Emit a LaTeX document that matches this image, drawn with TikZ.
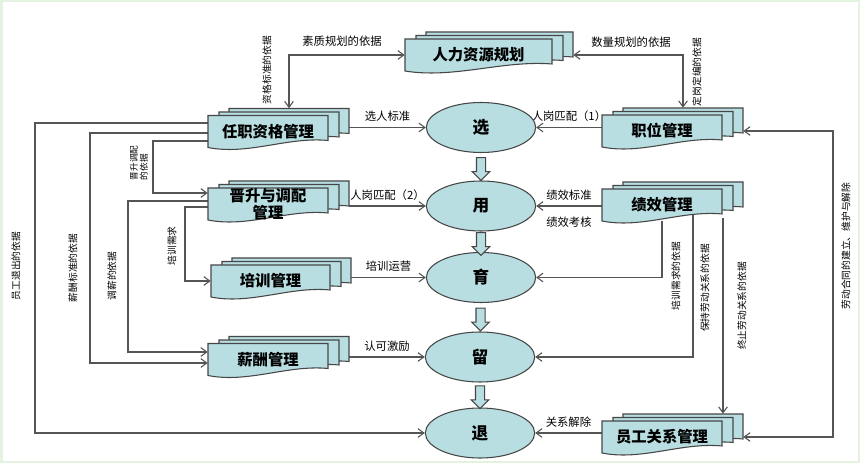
\documentclass[tikz,border=0pt]{standalone}
\usepackage{fontspec}
\setmainfont{Noto Sans CJK SC}
\usepackage{xcolor}
\definecolor{docfill}{RGB}{184, 222, 226}
\definecolor{docline}{RGB}{70, 70, 70}
\definecolor{wire}{RGB}{85, 85, 85}
\definecolor{frame}{RGB}{228, 243, 224}
\usepackage{tikz}
\usetikzlibrary{calc, positioning, shapes.geometric, shapes.arrows, arrows.meta, backgrounds}

% stacked document: name, front centre, width (px), text
\newcommand{\docstack}[4]{%
  \foreach \dx/\dy in {21/-7, 11/-3.5, 0/0}
    \path[docshape, shift={($#2+(\dx,\dy)$)}] ({-#3/2},-16) -- ({#3/2},-16) -- ({#3/2},9)
      .. controls ({#3/6},5) and ({-#3/6},24) .. ({-#3/2},16) -- cycle;
  \node[docback, minimum width=#3*0.75pt] (#1b) at ($#2+(21,-7)$) {};
  \node[docback, minimum width=#3*0.75pt] (#1m) at ($#2+(11,-3.5)$) {};
  \node[doc, minimum width=#3*0.75pt] (#1) at #2 {#4};
}

\begin{document}
\begin{tikzpicture}[
  x=0.75pt, y=-0.75pt,
  >={Straight Barb[length=4.5pt,width=6.5pt]},
  docshape/.style={draw=docline, fill=docfill, line width=0.8pt},
  doc/.style={rectangle, minimum height=24pt, inner sep=1pt, align=center, font=\fontsize{11.5}{12.5}\selectfont\bfseries},
  docback/.style={rectangle, minimum height=24pt, inner sep=0pt},
  stage/.style={ellipse, draw=docline, fill=docfill, line width=0.8pt, minimum width=82pt, minimum height=37.5pt, font=\fontsize{12.5}{13}\selectfont\bfseries},
  down/.style={single arrow, draw=docline, fill=docfill, line width=0.8pt, rotate=-90, inner sep=3pt, single arrow head extend=3.2pt, minimum height=17pt},
  flow/.style={draw=wire, line width=0.8pt, ->},
  lbl/.style={font=\fontsize{8.5}{9}\selectfont, inner sep=2pt},
  vlbl/.style={font=\fontsize{7.3}{8}\selectfont, rotate=90, inner sep=1pt, align=left}
]
  \useasboundingbox (0,0) rectangle (860,463);

  % document boxes
  \docstack{plan}{(478.5,55)}{147}{人力资源规划}
  \docstack{quali}{(268,131.5)}{120}{任职资格管理}
  \docstack{post}{(662,131)}{120}{职位管理}
  \docstack{promo}{(268,204)}{120}{晋升与调配\\管理}
  \docstack{train}{(270.5,281)}{119}{培训管理}
  \docstack{pay}{(268,359.5)}{120}{薪酬管理}
  \docstack{perf}{(662,205)}{120}{绩效管理}
  \docstack{rel}{(662,437)}{120}{员工关系管理}

  % stages
  \node[stage] (sel) at (481,127.5) {选};
  \node[stage] (use) at (481,206) {用};
  \node[stage] (dev) at (481,277.5) {育};
  \node[stage] (keep) at (480,357) {留};
  \node[stage] (exit) at (480,433) {退};

  \node[down] (a1) at ($(sel.south)!0.5!(use.north)$) {};
  \node[down] (a2) at ($(use.south)!0.5!(dev.north)$) {};
  \node[down] (a3) at ($(dev.south)!0.5!(keep.north)$) {};
  \node[down] (a4) at ($(keep.south)!0.5!(exit.north)$) {};

  \coordinate (c1) at (35,0);
  \coordinate (c2) at (90,0);
  \coordinate (c3) at (153,0);
  \coordinate (c4) at (128,0);
  \coordinate (c5) at (185,0);
  \coordinate (rr) at (833,0);
  \coordinate (pay1) at ($(pay.west)+(0,-7.5)$);
  \coordinate (pay2) at ($(pay.west)+(0,3.5)$);
  \coordinate (promo1) at ($(promo.west)+(0,-11)$);
  \coordinate (endrel) at ($(perfm.south)+(50,0)$);

  \begin{scope}[on background layer]
    \fill[frame] (0,0) rectangle (860,463);
    \fill[white] (2.5,2.5) rectangle (857.5,460.5);

    % into the stages
    \draw[flow] (sel.west -| qualib.east) -- (sel.west) node[lbl, midway, above=2pt] (t1) {选人标准};
    \draw[flow] (sel.east -| post.west) -- (sel.east) node[lbl, midway, above=2pt] (t2) {人岗匹配（1）};
    \draw[flow] (use.west -| promob.east) -- (use.west) node[lbl, midway, above=2pt] (t3) {人岗匹配（2）};
    \draw[flow] (use.east -| perf.west) -- (use.east) node[lbl, midway, above=2pt] (t4) {绩效标准}
      node[lbl, midway, below=6pt] (t5) {绩效考核};
    \draw[flow] (dev.west -| trainb.east) -- (dev.west) node[lbl, midway, above=2pt] (t6) {培训运营};
    \draw[flow] (keep.west -| payb.east) -- (keep.west) node[lbl, midway, above=2pt] (t7) {认可激励};
    \draw[flow] (exit.east -| rel.west) -- (exit.east) node[lbl, midway, above=2pt] (t8) {关系解除};

    % planning
    \draw[flow, <->] (plan.west) -| (qualib.north);
    \draw[flow, <->] (plan.east -| planb.east) -| (postb.north);

    % performance
    \draw[flow] (perf.south) |- (dev.east);
    \draw[flow] ($(perf.south)+(31,-6)$) |- (keep.east);
    \draw[flow] (endrel) -- (endrel |- relb.north);

    % contract loop
    \draw[flow, <->] (post.east -| postb.east) -- (post.east -| rr) -- (rel.east -| rr) -- (rel.east -| relb.east);

    % left side
    \draw[flow] ($(quali.west)+(0,-8.5)$) -| (c1 |- exit.west) -- (exit.west);
    \draw[flow] ($(quali.west)+(0,1.5)$) -| (c2 |- pay2) -- (pay2);
    \draw[flow] ($(quali.west)+(0,9.5)$) -| (c3 |- promo1) -- (promo1);
    \draw[flow] ($(promo.west)+(0,-3)$) -| (c4 |- pay1) -- (pay1);
    \draw[flow] ($(promo.west)+(0,3)$) -| (c5 |- train.west) -- (train.west);
  \end{scope}

  % labels
  \node[lbl] (n1) at (342,41) {素质规划的依据};
  \node[lbl] (n2) at (631,42) {数量规划的依据};
  \node[vlbl] (v1) at (267,70) {资格标准的依据};
  \node[vlbl] (v2) at (697,72) {定岗定编的依据};
  \node[vlbl] (v3) at (676,276) {培训需求的依据};
  \node[vlbl] (v4) at (705,288) {保持劳动关系的依据};
  \node[vlbl] (v5) at (742,306) {终止劳动关系的依据};
  \node[vlbl] (v6) at (846,246) {劳动合同的建立、维护与解除};
  \node[vlbl] (v7) at (16,266) {员工退出的依据};
  \node[vlbl] (v8) at (73,268) {薪酬标准的依据};
  \node[vlbl] (v9) at (112,276) {调薪的依据};
  \node[vlbl, font=\fontsize{6.5}{7.5}\selectfont] (v10) at (139,163) {晋升调配\\的依据};
  \node[vlbl] (v11) at (172,246) {培训需求};
\end{tikzpicture}
\end{document}
